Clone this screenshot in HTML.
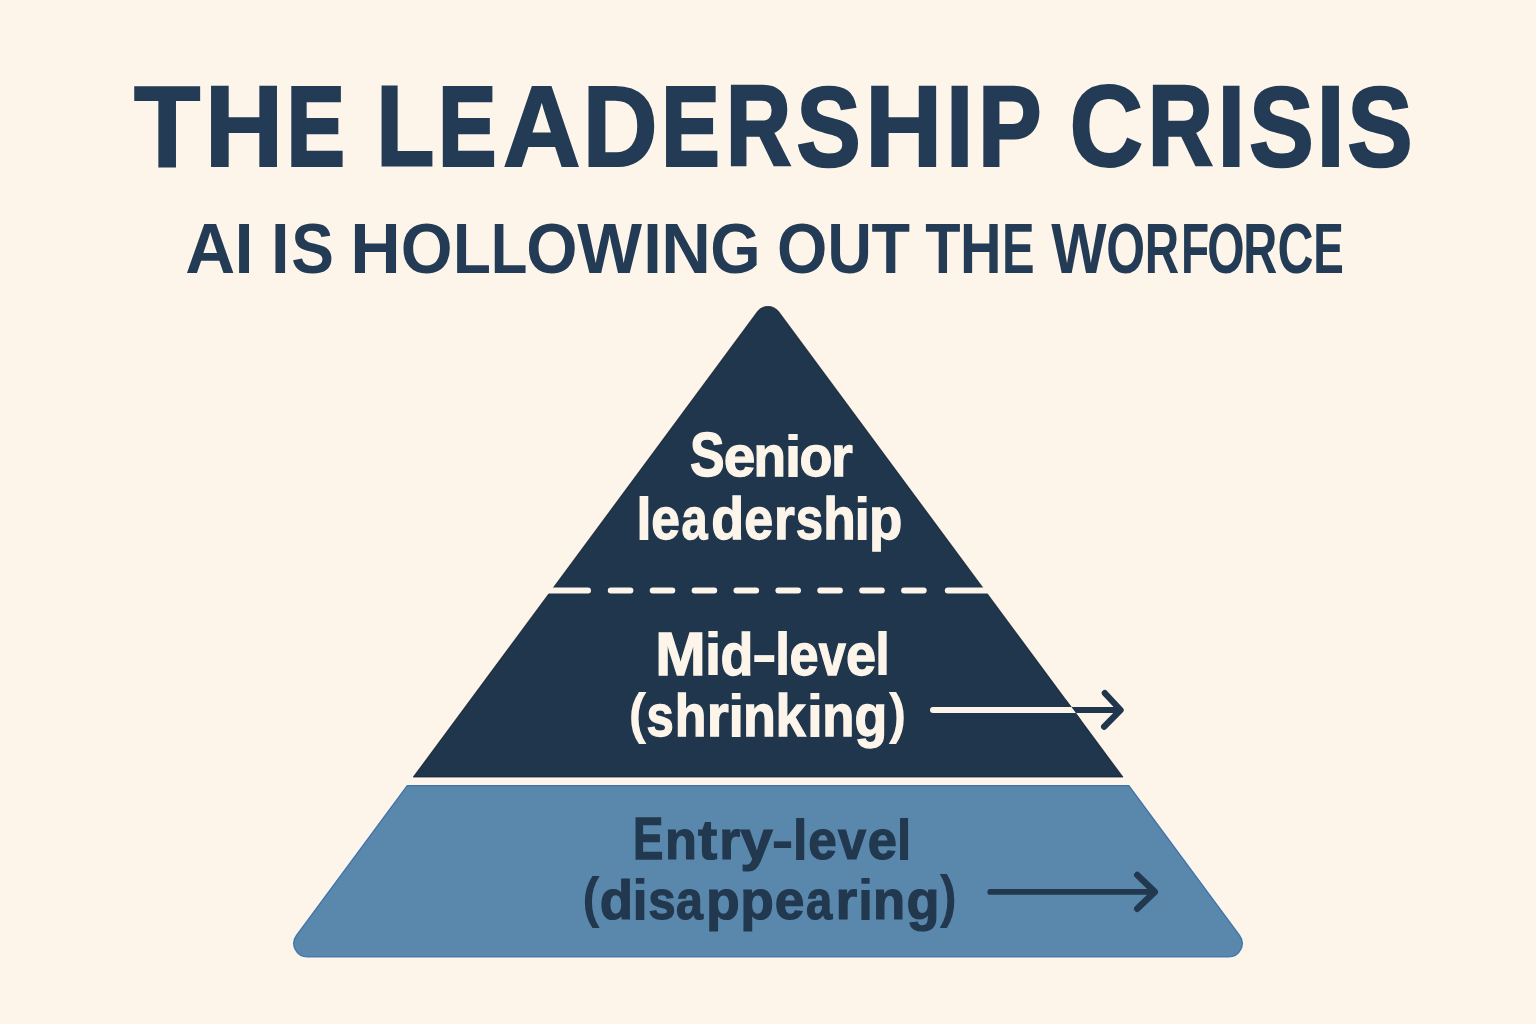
<!DOCTYPE html>
<html lang="en">
<head>
<meta charset="utf-8">
<title>The Leadership Crisis</title>
<style>
  html, body { margin: 0; padding: 0; background: #fdf5ea; }
  body { width: 1536px; height: 1024px; overflow: hidden; font-family: "Liberation Sans", sans-serif; }
  svg { display: block; }
  text { font-family: "Liberation Sans", sans-serif; font-weight: bold; }
</style>
</head>
<body>
<svg width="1536" height="1024" viewBox="0 0 1536 1024">
  <rect x="0" y="0" width="1536" height="1024" fill="#fdf5ea"/>

  <!-- Pyramid: dark upper part -->
  <path d="M 413.5 776.95 L 757.4 311.9 A 13.2 13.2 0 0 1 778.7 311.9 L 1122.7 776.95 Z" fill="#20364c" stroke="#0e1b2e" stroke-opacity="0.75" stroke-width="1.1" stroke-linejoin="round"/>

  <!-- Pyramid: blue base -->
  <path d="M 407.2 785.6 L 1128.9 785.6 L 1239.6 935.32 A 13.6 13.6 0 0 1 1228.65 957.0 L 307.35 957.0 A 13.6 13.6 0 0 1 296.42 935.32 Z" fill="#5a87ac" stroke="#2f68a8" stroke-opacity="0.85" stroke-width="1.2" stroke-linejoin="round"/>

  <!-- dashed divider -->
  <line x1="545" y1="590.4" x2="588" y2="590.4" stroke="#fdf5ea" stroke-width="6" stroke-linecap="round"/>
  <line x1="610.8" y1="590.4" x2="930" y2="590.4" stroke="#fdf5ea" stroke-width="6" stroke-linecap="round" stroke-dasharray="19.6 22.3"/>
  <line x1="947.8" y1="590.4" x2="990" y2="590.4" stroke="#fdf5ea" stroke-width="6" stroke-linecap="round"/>

  <!-- Text -->
  <text transform="translate(134.06 165.87) scale(1.0859 1.1445)" font-size="100" fill="#233b54" stroke="#233b54" stroke-width="1.80">T</text>
  <text transform="translate(204.80 165.87) scale(1.0877 1.1445)" font-size="100" fill="#233b54" stroke="#233b54" stroke-width="1.80">H</text>
  <text transform="translate(287.10 165.00) scale(0.8621 1.1191)" font-size="100" fill="#233b54" stroke="#233b54" stroke-width="3.40">E</text>
  <text transform="translate(376.62 165.43) scale(0.9422 1.1317)" font-size="100" fill="#233b54" stroke="#233b54" stroke-width="2.60">L</text>
  <text transform="translate(438.60 165.00) scale(0.8621 1.1191)" font-size="100" fill="#233b54" stroke="#233b54" stroke-width="3.40">E</text>
  <text transform="translate(502.99 165.87) scale(1.0727 1.1445)" font-size="100" fill="#233b54" stroke="#233b54" stroke-width="1.80">A</text>
  <text transform="translate(582.47 165.87) scale(1.0407 1.1445)" font-size="100" fill="#233b54" stroke="#233b54" stroke-width="1.80">D</text>
  <text transform="translate(661.80 165.00) scale(0.8621 1.1191)" font-size="100" fill="#233b54" stroke="#233b54" stroke-width="3.40">E</text>
  <text transform="translate(726.36 165.21) scale(0.8935 1.1253)" font-size="100" fill="#233b54" stroke="#233b54" stroke-width="3.00">R</text>
  <text transform="translate(796.58 165.54) scale(0.9613 1.1348)" font-size="100" fill="#233b54" stroke="#233b54" stroke-width="2.40">S</text>
  <text transform="translate(864.90 165.87) scale(1.0712 1.1445)" font-size="100" fill="#233b54" stroke="#233b54" stroke-width="1.80">H</text>
  <text transform="translate(945.81 165.87) scale(0.9997 1.1445)" font-size="100" fill="#233b54" stroke="#233b54" stroke-width="1.80">I</text>
  <text transform="translate(978.30 165.43) scale(0.9461 1.1317)" font-size="100" fill="#233b54" stroke="#233b54" stroke-width="2.60">P</text>
  <text transform="translate(1069.44 165.87) scale(1.0196 1.1445)" font-size="100" fill="#233b54" stroke="#233b54" stroke-width="1.80">C</text>
  <text transform="translate(1148.29 165.21) scale(0.8890 1.1253)" font-size="100" fill="#233b54" stroke="#233b54" stroke-width="3.00">R</text>
  <text transform="translate(1217.34 165.87) scale(1.0121 1.1445)" font-size="100" fill="#233b54" stroke="#233b54" stroke-width="1.80">I</text>
  <text transform="translate(1249.18 165.54) scale(0.9645 1.1348)" font-size="100" fill="#233b54" stroke="#233b54" stroke-width="2.40">S</text>
  <text transform="translate(1316.13 165.87) scale(1.0306 1.1445)" font-size="100" fill="#233b54" stroke="#233b54" stroke-width="1.80">I</text>
  <text transform="translate(1347.56 165.54) scale(0.9741 1.1348)" font-size="100" fill="#233b54" stroke="#233b54" stroke-width="2.40">S</text>
  <text transform="translate(185.18 273.40) scale(0.6916 0.7093)" font-size="100" fill="#233b54">A</text>
  <text transform="translate(234.40 273.40) scale(0.6873 0.7093)" font-size="100" fill="#233b54">I</text>
  <text transform="translate(271.04 273.40) scale(0.6665 0.7093)" font-size="100" fill="#233b54">I</text>
  <text transform="translate(291.36 273.40) scale(0.6393 0.7093)" font-size="100" fill="#233b54">S</text>
  <text transform="translate(350.22 273.40) scale(0.6991 0.7093)" font-size="100" fill="#233b54">H</text>
  <text transform="translate(400.87 273.40) scale(0.6664 0.7093)" font-size="100" fill="#233b54">O</text>
  <text transform="translate(453.05 273.40) scale(0.6197 0.7093)" font-size="100" fill="#233b54">L</text>
  <text transform="translate(490.69 273.40) scale(0.6002 0.7093)" font-size="100" fill="#233b54">L</text>
  <text transform="translate(526.20 273.40) scale(0.6592 0.7093)" font-size="100" fill="#233b54">O</text>
  <text transform="translate(577.23 273.40) scale(0.6859 0.7093)" font-size="100" fill="#233b54">W</text>
  <text transform="translate(643.24 273.40) scale(0.6665 0.7093)" font-size="100" fill="#233b54">I</text>
  <text transform="translate(661.30 273.40) scale(0.6872 0.7093)" font-size="100" fill="#233b54">N</text>
  <text transform="translate(710.14 273.40) scale(0.6476 0.7093)" font-size="100" fill="#233b54">G</text>
  <text transform="translate(777.04 273.40) scale(0.6476 0.7093)" font-size="100" fill="#233b54">O</text>
  <text transform="translate(827.61 273.40) scale(0.6139 0.7093)" font-size="100" fill="#233b54">U</text>
  <text transform="translate(871.49 273.40) scale(0.6300 0.7093)" font-size="100" fill="#233b54">T</text>
  <text transform="translate(925.35 273.40) scale(0.5774 0.7093)" font-size="100" fill="#233b54">T</text>
  <text transform="translate(959.95 273.40) scale(0.5749 0.7093)" font-size="100" fill="#233b54">H</text>
  <text transform="translate(1001.93 273.40) scale(0.4884 0.7093)" font-size="100" fill="#233b54">E</text>
  <text transform="translate(1051.14 273.40) scale(0.5861 0.7093)" font-size="100" fill="#233b54">W</text>
  <text transform="translate(1106.35 273.40) scale(0.4994 0.7093)" font-size="100" fill="#233b54">O</text>
  <text transform="translate(1144.82 273.40) scale(0.4758 0.7093)" font-size="100" fill="#233b54">R</text>
  <text transform="translate(1180.91 273.40) scale(0.4612 0.7093)" font-size="100" fill="#233b54">F</text>
  <text transform="translate(1207.23 273.40) scale(0.4807 0.7093)" font-size="100" fill="#233b54">O</text>
  <text transform="translate(1243.35 273.40) scale(0.4710 0.7093)" font-size="100" fill="#233b54">R</text>
  <text transform="translate(1277.45 273.40) scale(0.4986 0.7093)" font-size="100" fill="#233b54">C</text>
  <text transform="translate(1313.24 273.40) scale(0.4581 0.7093)" font-size="100" fill="#233b54">E</text>
  <text transform="translate(689.98 476.12) scale(0.5184 0.6221)" font-size="100" fill="#fdf5ea" stroke="#fdf5ea" stroke-width="2.20">S</text>
  <text transform="translate(723.80 476.17) scale(0.5684 0.5772)" font-size="100" fill="#fdf5ea" stroke="#fdf5ea" stroke-width="2.20">e</text>
  <text transform="translate(753.57 476.17) scale(0.5328 0.5772)" font-size="100" fill="#fdf5ea" stroke="#fdf5ea" stroke-width="2.20">n</text>
  <text transform="translate(783.82 476.80) scale(0.6705 0.5947)" font-size="100" fill="#fdf5ea">i</text>
  <text transform="translate(799.49 476.17) scale(0.5390 0.5772)" font-size="100" fill="#fdf5ea" stroke="#fdf5ea" stroke-width="2.20">o</text>
  <text transform="translate(831.02 476.17) scale(0.5604 0.5772)" font-size="100" fill="#fdf5ea" stroke="#fdf5ea" stroke-width="2.20">r</text>
  <text transform="translate(635.22 540.10) scale(0.6268 0.6030)" font-size="100" fill="#fdf5ea">l</text>
  <text transform="translate(651.35 539.46) scale(0.5149 0.5852)" font-size="100" fill="#fdf5ea" stroke="#fdf5ea" stroke-width="2.20">e</text>
  <text transform="translate(681.54 539.46) scale(0.4683 0.5852)" font-size="100" fill="#fdf5ea" stroke="#fdf5ea" stroke-width="2.20">a</text>
  <text transform="translate(711.28 539.46) scale(0.5381 0.5852)" font-size="100" fill="#fdf5ea" stroke="#fdf5ea" stroke-width="2.20">d</text>
  <text transform="translate(744.34 539.46) scale(0.5189 0.5852)" font-size="100" fill="#fdf5ea" stroke="#fdf5ea" stroke-width="2.20">e</text>
  <text transform="translate(773.96 539.46) scale(0.5362 0.5852)" font-size="100" fill="#fdf5ea" stroke="#fdf5ea" stroke-width="2.20">r</text>
  <text transform="translate(795.72 539.46) scale(0.4901 0.5852)" font-size="100" fill="#fdf5ea" stroke="#fdf5ea" stroke-width="2.20">s</text>
  <text transform="translate(823.17 539.46) scale(0.5329 0.5852)" font-size="100" fill="#fdf5ea" stroke="#fdf5ea" stroke-width="2.20">h</text>
  <text transform="translate(853.62 540.10) scale(0.6268 0.6030)" font-size="100" fill="#fdf5ea">i</text>
  <text transform="translate(869.10 539.46) scale(0.5457 0.5852)" font-size="100" fill="#fdf5ea" stroke="#fdf5ea" stroke-width="2.20">p</text>
  <text transform="translate(655.31 674.62) scale(0.6059 0.6163)" font-size="100" fill="#fdf5ea" stroke="#fdf5ea" stroke-width="2.20">M</text>
  <text transform="translate(703.82 675.30) scale(0.6705 0.6030)" font-size="100" fill="#fdf5ea">i</text>
  <text transform="translate(720.38 674.66) scale(0.5381 0.5852)" font-size="100" fill="#fdf5ea" stroke="#fdf5ea" stroke-width="2.20">d</text>
  <text transform="translate(751.34 674.40) scale(0.7838 0.5708)" font-size="100" fill="#fdf5ea">-</text>
  <text transform="translate(774.07 675.30) scale(0.6195 0.6030)" font-size="100" fill="#fdf5ea">l</text>
  <text transform="translate(789.53 674.66) scale(0.5229 0.5852)" font-size="100" fill="#fdf5ea" stroke="#fdf5ea" stroke-width="2.20">e</text>
  <text transform="translate(818.65 674.66) scale(0.4878 0.5852)" font-size="100" fill="#fdf5ea" stroke="#fdf5ea" stroke-width="2.20">v</text>
  <text transform="translate(845.98 674.66) scale(0.5407 0.5852)" font-size="100" fill="#fdf5ea" stroke="#fdf5ea" stroke-width="2.20">e</text>
  <text transform="translate(874.33 675.30) scale(0.5976 0.6030)" font-size="100" fill="#fdf5ea">l</text>
  <text transform="translate(628.52 731.72) scale(0.5386 0.5579)" font-size="100" fill="#fdf5ea">(</text>
  <text transform="translate(646.62 736.26) scale(0.4901 0.5862)" font-size="100" fill="#fdf5ea" stroke="#fdf5ea" stroke-width="2.20">s</text>
  <text transform="translate(674.85 736.26) scale(0.5190 0.5862)" font-size="100" fill="#fdf5ea" stroke="#fdf5ea" stroke-width="2.20">h</text>
  <text transform="translate(706.69 736.26) scale(0.5665 0.5862)" font-size="100" fill="#fdf5ea" stroke="#fdf5ea" stroke-width="2.20">r</text>
  <text transform="translate(727.52 736.90) scale(0.6268 0.6040)" font-size="100" fill="#fdf5ea">i</text>
  <text transform="translate(743.04 736.26) scale(0.5387 0.5862)" font-size="100" fill="#fdf5ea" stroke="#fdf5ea" stroke-width="2.20">n</text>
  <text transform="translate(775.50 736.26) scale(0.5439 0.5862)" font-size="100" fill="#fdf5ea" stroke="#fdf5ea" stroke-width="2.20">k</text>
  <text transform="translate(806.02 736.90) scale(0.6414 0.6040)" font-size="100" fill="#fdf5ea">i</text>
  <text transform="translate(822.31 736.26) scale(0.5268 0.5862)" font-size="100" fill="#fdf5ea" stroke="#fdf5ea" stroke-width="2.20">n</text>
  <text transform="translate(854.59 736.26) scale(0.5372 0.5862)" font-size="100" fill="#fdf5ea" stroke="#fdf5ea" stroke-width="2.20">g</text>
  <text transform="translate(888.85 731.96) scale(0.5279 0.5611)" font-size="100" fill="#fdf5ea">)</text>
  <text transform="translate(632.95 859.15) scale(0.4562 0.5872)" font-size="100" fill="#22384e" stroke="#22384e" stroke-width="2.20">E</text>
  <text transform="translate(664.93 859.19) scale(0.5229 0.5571)" font-size="100" fill="#22384e" stroke="#22384e" stroke-width="2.20">n</text>
  <text transform="translate(697.93 859.19) scale(0.5777 0.5571)" font-size="100" fill="#22384e" stroke="#22384e" stroke-width="2.20">t</text>
  <text transform="translate(719.16 859.19) scale(0.5362 0.5571)" font-size="100" fill="#22384e" stroke="#22384e" stroke-width="2.20">r</text>
  <text transform="translate(740.19 859.19) scale(0.5841 0.5571)" font-size="100" fill="#22384e" stroke="#22384e" stroke-width="2.20">y</text>
  <text transform="translate(771.25 858.66) scale(0.6774 0.5540)" font-size="100" fill="#22384e">-</text>
  <text transform="translate(791.88 859.80) scale(0.5903 0.5740)" font-size="100" fill="#22384e">l</text>
  <text transform="translate(808.16 859.19) scale(0.5130 0.5571)" font-size="100" fill="#22384e" stroke="#22384e" stroke-width="2.20">e</text>
  <text transform="translate(838.06 859.19) scale(0.5054 0.5571)" font-size="100" fill="#22384e" stroke="#22384e" stroke-width="2.20">v</text>
  <text transform="translate(867.63 859.19) scale(0.5248 0.5571)" font-size="100" fill="#22384e" stroke="#22384e" stroke-width="2.20">e</text>
  <text transform="translate(896.03 859.80) scale(0.5831 0.5740)" font-size="100" fill="#22384e">l</text>
  <text transform="translate(582.19 915.93) scale(0.5244 0.5622)" font-size="100" fill="#22384e">(</text>
  <text transform="translate(599.66 918.89) scale(0.5457 0.5571)" font-size="100" fill="#22384e" stroke="#22384e" stroke-width="2.20">d</text>
  <text transform="translate(631.57 919.50) scale(0.6195 0.5740)" font-size="100" fill="#22384e">i</text>
  <text transform="translate(648.31 918.89) scale(0.4921 0.5571)" font-size="100" fill="#22384e" stroke="#22384e" stroke-width="2.20">s</text>
  <text transform="translate(676.11 918.89) scale(0.4845 0.5571)" font-size="100" fill="#22384e" stroke="#22384e" stroke-width="2.20">a</text>
  <text transform="translate(706.06 918.89) scale(0.5533 0.5571)" font-size="100" fill="#22384e" stroke="#22384e" stroke-width="2.20">p</text>
  <text transform="translate(740.18 918.89) scale(0.5495 0.5571)" font-size="100" fill="#22384e" stroke="#22384e" stroke-width="2.20">p</text>
  <text transform="translate(774.70 918.89) scale(0.5328 0.5571)" font-size="100" fill="#22384e" stroke="#22384e" stroke-width="2.20">e</text>
  <text transform="translate(806.04 918.89) scale(0.4719 0.5571)" font-size="100" fill="#22384e" stroke="#22384e" stroke-width="2.20">a</text>
  <text transform="translate(835.54 918.89) scale(0.5574 0.5571)" font-size="100" fill="#22384e" stroke="#22384e" stroke-width="2.20">r</text>
  <text transform="translate(857.13 919.50) scale(0.5976 0.5740)" font-size="100" fill="#22384e">i</text>
  <text transform="translate(872.91 918.89) scale(0.5268 0.5571)" font-size="100" fill="#22384e" stroke="#22384e" stroke-width="2.20">n</text>
  <text transform="translate(906.38 918.89) scale(0.5410 0.5571)" font-size="100" fill="#22384e" stroke="#22384e" stroke-width="2.20">g</text>
  <text transform="translate(939.85 915.87) scale(0.5138 0.5654)" font-size="100" fill="#22384e">)</text>

  <!-- Mid-level arrow (white inside, dark outside) -->
  <defs><clipPath id="pyr"><path d="M 412.4 777.5 L 768.0 296.6 L 1123.6 777.5 Z"/></clipPath></defs>
  <path d="M 1060 710 L 1120 710 M 1104.8 693.1 L 1120.6 710 L 1104.1 726.7" fill="none" stroke="#20364c" stroke-width="6.2" stroke-linecap="round" stroke-linejoin="round"/>
  <path d="M 1040 700 L 1090 700 L 1090 720 L 1040 720 Z" fill="#20364c" clip-path="url(#pyr)"/>
  <line x1="933" y1="710" x2="1100" y2="710" stroke="#fdf5ea" stroke-width="6" stroke-linecap="round" clip-path="url(#pyr)"/>

  <!-- Entry-level arrow -->
  <line x1="990.3" y1="891.9" x2="1153" y2="891.9" stroke="#22384e" stroke-width="5.9" stroke-linecap="round"/>
  <path d="M 1137.3 875 L 1154.8 891.9 L 1137.3 908.7" fill="none" stroke="#22384e" stroke-width="6.5" stroke-linecap="round" stroke-linejoin="round"/>
</svg>
</body>
</html>
